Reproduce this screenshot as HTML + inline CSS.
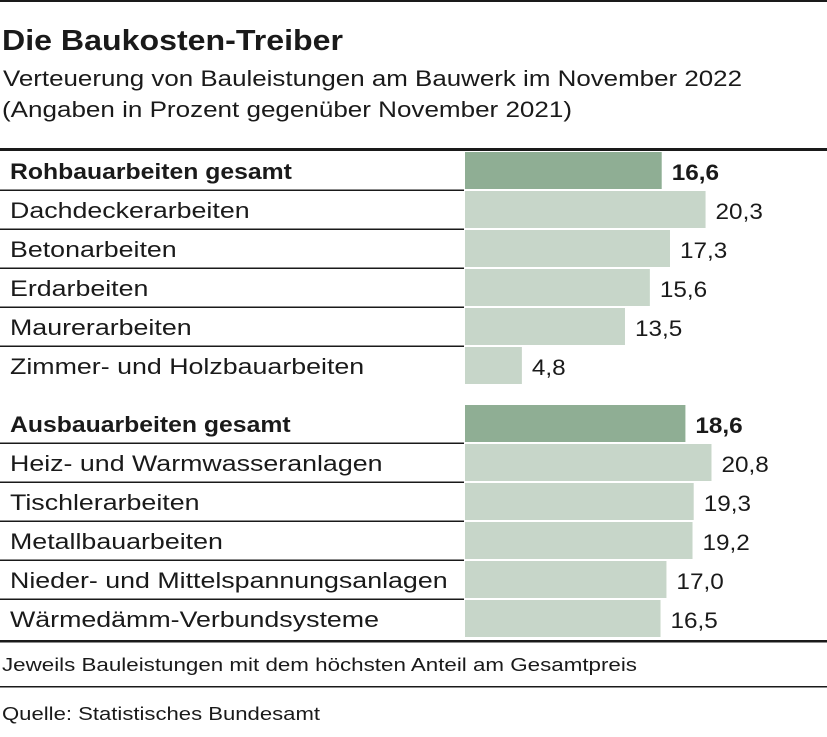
<!DOCTYPE html>
<html><head><meta charset="utf-8"><style>
html,body{margin:0;padding:0;background:#fff;}
svg{display:block;font-family:"Liberation Sans",sans-serif;}
</style></head><body>
<svg id="chart" width="827" height="737" viewBox="0 0 827 737">
<rect x="0" y="0" width="827" height="2" fill="#1a1a1a"/>
<text x="2" y="50" font-size="29" font-weight="bold" fill="#1a1a1a" textLength="341" lengthAdjust="spacingAndGlyphs">Die Baukosten-Treiber</text>
<text x="3" y="86" font-size="22" fill="#1a1a1a" textLength="739" lengthAdjust="spacingAndGlyphs">Verteuerung von Bauleistungen am Bauwerk im November 2022</text>
<text x="2" y="117" font-size="22" fill="#1a1a1a" textLength="570" lengthAdjust="spacingAndGlyphs">(Angaben in Prozent gegenüber November 2021)</text>
<rect x="0" y="148" width="827" height="3" fill="#1a1a1a"/>
<g id="rows"></g>
<rect x="0" y="640" width="827" height="2.5" fill="#1a1a1a"/>
<text x="2" y="671" font-size="18" fill="#1a1a1a" textLength="635" lengthAdjust="spacingAndGlyphs">Jeweils Bauleistungen mit dem höchsten Anteil am Gesamtpreis</text>
<rect x="0" y="686" width="827" height="1.5" fill="#1a1a1a"/>
<text x="2" y="720" font-size="18" fill="#1a1a1a" textLength="318" lengthAdjust="spacingAndGlyphs">Quelle: Statistisches Bundesamt</text>
</svg>
<script>
const categories = ["Rohbauarbeiten gesamt","Dachdeckerarbeiten","Betonarbeiten","Erdarbeiten","Maurerarbeiten","Zimmer- und Holzbauarbeiten","Ausbauarbeiten gesamt","Heiz- und Warmwasseranlagen","Tischlerarbeiten","Metallbauarbeiten","Nieder- und Mittelspannungsanlagen","Wärmedämm-Verbundsysteme"];
const values = [16.6,20.3,17.3,15.6,13.5,4.8,18.6,20.8,19.3,19.2,17.0,16.5];
const isTotal = [true,false,false,false,false,false,true,false,false,false,false,false];

const NS = "http://www.w3.org/2000/svg";
const x0 = 465, pxPerUnit = 11.85;
function xScale(v){ return x0 + v * pxPerUnit; }
function rowTop(i){ return i < 6 ? 152 + i * 39 : 405 + (i - 6) * 39; }
const rowH = 37;
const g = document.getElementById("rows");
function mk(tag, attrs){ const e = document.createElementNS(NS, tag); for (const k in attrs) e.setAttribute(k, attrs[k]); return e; }
function stretch(el, f){ const w = el.getComputedTextLength(); el.setAttribute("textLength", (w * f).toFixed(1)); el.setAttribute("lengthAdjust", "spacingAndGlyphs"); }
categories.forEach((c, i) => {
  const y = rowTop(i);
  const v = values[i];
  const bar = mk("rect", {x: x0, y: y, width: xScale(v) - x0, height: rowH, fill: isTotal[i] ? "#8fae94" : "#c7d6c9"});
  
  
  g.appendChild(bar);
  const lbl = mk("text", {x: 10, y: y + 27, "font-size": 22.5, fill: "#1a1a1a", "font-weight": isTotal[i] ? "bold" : "normal"});
  lbl.textContent = c;
  
  
  g.appendChild(lbl);
  stretch(lbl, isTotal[i] ? 1.1 : 1.19);
  const val = mk("text", {x: xScale(v) + 10, y: y + 28, "font-size": 22.5, fill: "#1a1a1a", "font-weight": isTotal[i] ? "bold" : "normal"});
  val.textContent = v.toFixed(1).replace(".", ",");
  
  
  g.appendChild(val);
  stretch(val, 1.08);
  if (i !== 5 && i !== 11) {
    const sep = mk("rect", {x: 0, y: y + rowH + 0.5, width: 464, height: 1.5, fill: "#1a1a1a"});
    
    
    g.appendChild(sep);
  }
});
</script>
</body></html>
